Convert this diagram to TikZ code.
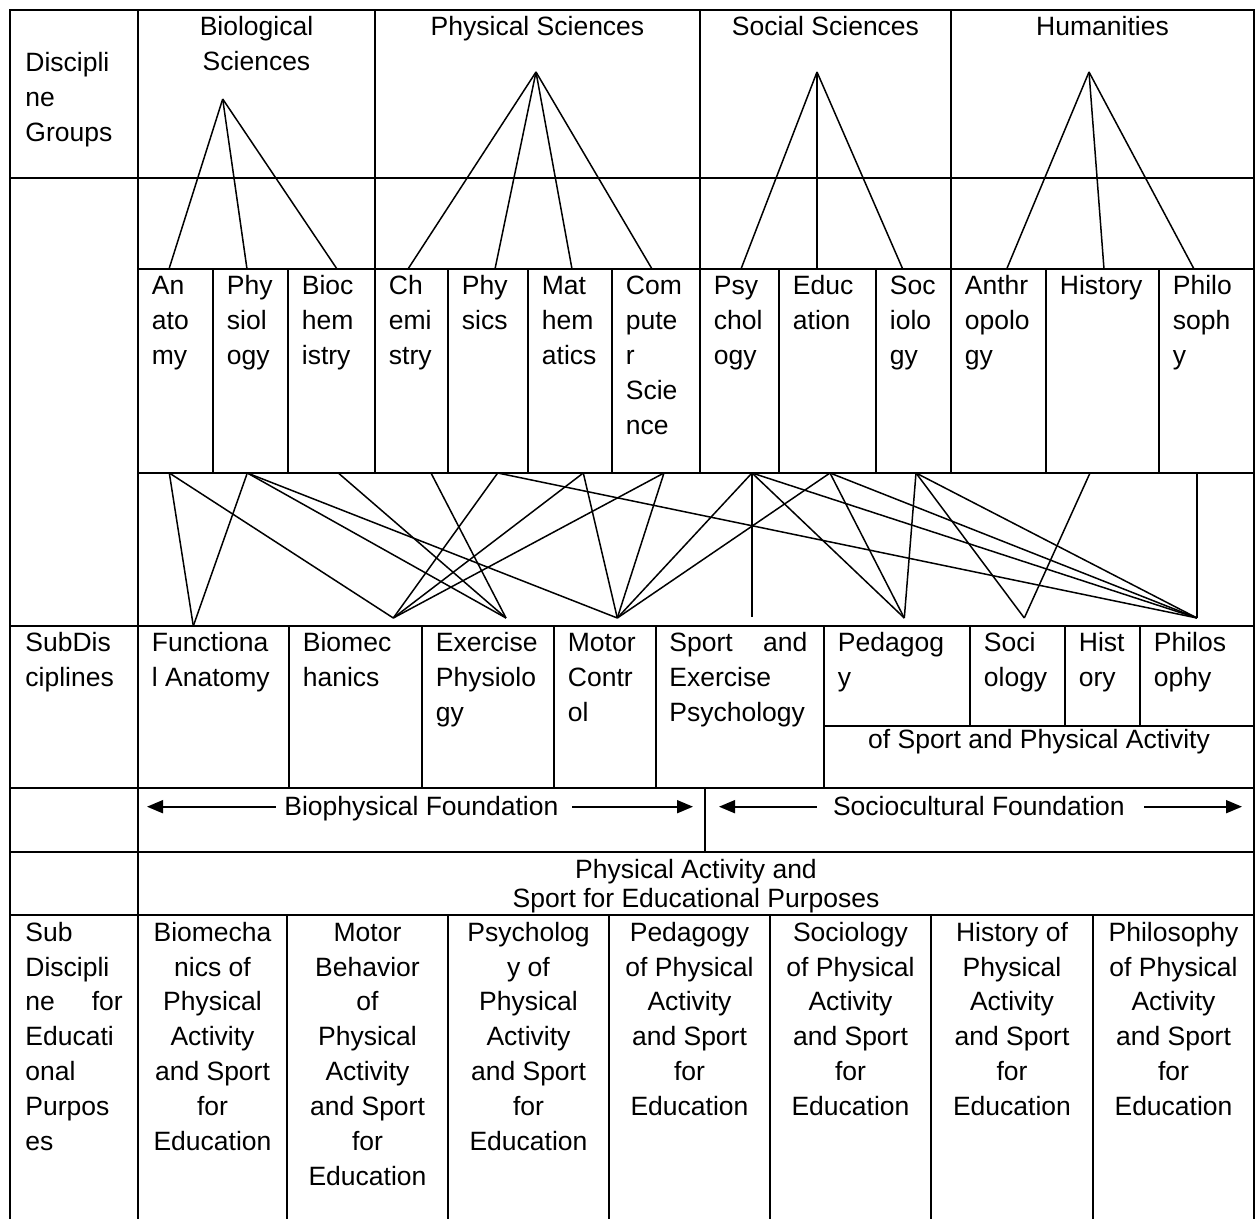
\documentclass[tikz,border=0pt]{standalone}
\usepackage{fontspec}
\setmainfont{Liberation Sans}
\usetikzlibrary{arrows.meta}
\newcommand\mycellfont{\fontsize{13.25pt}{17.5pt}\selectfont}
\newcommand\mytightfont{\fontsize{13.25pt}{14.5pt}\selectfont}
\newcommand\mycellL[1]{\begin{tabular}[t]{@{}l@{}}#1\end{tabular}}
\newcommand\mycellC[1]{\begin{tabular}[t]{@{}c@{}}#1\end{tabular}}
\begin{document}
\begin{tikzpicture}[x=0.5pt,y=-0.5pt,
  grid/.style={line width=1pt,line cap=rect},
  conn/.style={line width=0.75pt},
  vconn/.style={line width=1pt},
  arr/.style={line width=0.9pt,-{Triangle[length=8pt,width=6.5pt]}},
  txt/.style={inner sep=0pt,font=\mycellfont,anchor=base west},
  ctxt/.style={inner sep=0pt,font=\mycellfont,anchor=base}]
\useasboundingbox (0,0) rectangle (1260,1219);
% ---------- table grid ----------
\draw[grid] (10,10) -- (1254,10);
\draw[grid] (10,178) -- (1254,178);
\draw[grid] (138,269) -- (1254,269);
\draw[grid] (138,473) -- (1254,473);
\draw[grid] (10,626) -- (1254,626);
\draw[grid] (824,726) -- (1254,726);
\draw[grid] (10,788) -- (1254,788);
\draw[grid] (10,852) -- (1254,852);
\draw[grid] (10,915) -- (1254,915);
\foreach \x in {10,138,1254} \draw[grid] (\x,10) -- (\x,1219);
\foreach \x in {375,700,951} \draw[grid] (\x,10) -- (\x,473);
\foreach \x in {213,288,448,528,612,779,876,1046,1159} \draw[grid] (\x,269) -- (\x,473);
\foreach \x in {289,422,554,655.5,824} \draw[grid] (\x,626) -- (\x,788);
\foreach \x in {970,1065,1140} \draw[grid] (\x,626) -- (\x,726);
\draw[grid] (705,788) -- (705,852);
\foreach \x in {287,448,609,770,931,1093} \draw[grid] (\x,915) -- (\x,1219);
% ---------- left column ----------
\node[txt] (dgroups) at (25,72) {\mycellL{Discipli\\ne\\Groups}};
\node[txt] (subdisc) at (25,652) {\mycellL{SubDis\\ciplines}};
\node[txt] (subedu) at (25,941) {\mycellL{Sub\\Discipli\\\hbox to 48.7pt{ne\hfill for}\\Educati\\onal\\Purpos\\es}};
% ---------- discipline groups ----------
\node[ctxt] (gbio) at (256.5,36) {\mycellC{Biological\\Sciences}};
\node[ctxt] (gphys) at (537.5,36) {Physical Sciences};
\node[ctxt] (gsoc) at (825.5,36) {Social Sciences};
\node[ctxt] (ghum) at (1102.5,36) {Humanities};
\coordinate (abio) at (222.7,99);
\coordinate (aphys) at (536,72);
\coordinate (asoc) at (817,72);
\coordinate (ahum) at (1089,72);
\foreach \x in {169,247,337} \draw[conn] (abio) -- (\x,269);
\foreach \x in {408,495,572,652} \draw[conn] (aphys) -- (\x,269);
\foreach \x in {741,902.7} \draw[conn] (asoc) -- (\x,269);
\draw[vconn] (asoc) -- (817,269);
\foreach \x in {1006.7,1104,1194} \draw[conn] (ahum) -- (\x,269);
% ---------- disciplines ----------
\node[txt] (dan) at (151.5,295) {\mycellL{An\\ato\\my}};
\node[txt] (dphy) at (226.5,295) {\mycellL{Phy\\siol\\ogy}};
\node[txt] (dbio) at (301.5,295) {\mycellL{Bioc\\hem\\istry}};
\node[txt] (dche) at (388.5,295) {\mycellL{Ch\\emi\\stry}};
\node[txt] (dphs) at (461.5,295) {\mycellL{Phy\\sics}};
\node[txt] (dmat) at (541.5,295) {\mycellL{Mat\\hem\\atics}};
\node[txt] (dcom) at (625.5,295) {\mycellL{Com\\pute\\r\\Scie\\nce}};
\node[txt] (dpsy) at (713.5,295) {\mycellL{Psy\\chol\\ogy}};
\node[txt] (dedu) at (792.5,295) {\mycellL{Educ\\ation}};
\node[txt] (dsoc) at (889.5,295) {\mycellL{Soc\\iolo\\gy}};
\node[txt] (dant) at (964.5,295) {\mycellL{Anthr\\opolo\\gy}};
\node[txt] (dhis) at (1059.5,295) {History};
\node[txt] (dphi) at (1172.5,295) {\mycellL{Philo\\soph\\y}};
% ---------- connector points ----------
\coordinate (tAn) at (169.3,473);
\coordinate (tPhy) at (247.3,473);
\coordinate (tBio) at (338.3,473);
\coordinate (tChe) at (431,473);
\coordinate (tPhs) at (497.7,473);
\coordinate (tMat) at (583.3,473);
\coordinate (tCom) at (664,473);
\coordinate (tPsy) at (752,473);
\coordinate (tEdu) at (830,473);
\coordinate (tSoc) at (916,473);
\coordinate (tHis) at (1090,473);
\coordinate (tPhi) at (1197,473);
\coordinate (bFA) at (193.3,626);
\coordinate (bBM) at (393.3,618);
\coordinate (bEP) at (506,618);
\coordinate (bMC) at (617.3,618);
\coordinate (bSP) at (752,617);
\coordinate (bPed) at (904.3,618);
\coordinate (bSoc) at (1024.3,618);
\coordinate (bPhi) at (1197,618);
\draw[conn] (tAn) -- (bFA);
\draw[conn] (tAn) -- (bBM);
\draw[conn] (tPhy) -- (bFA);
\draw[conn] (tPhy) -- (bEP);
\draw[conn] (tPhy) -- (bMC);
\draw[conn] (tBio) -- (bEP);
\draw[conn] (tChe) -- (bEP);
\draw[conn] (tPhs) -- (bBM);
\draw[conn] (tPhs) -- (bPhi);
\draw[conn] (tMat) -- (bBM);
\draw[conn] (tMat) -- (bMC);
\draw[conn] (tCom) -- (bBM);
\draw[conn] (tCom) -- (bMC);
\draw[conn] (tPsy) -- (bMC);
\draw[vconn] (tPsy) -- (bSP);
\draw[conn] (tPsy) -- (bPed);
\draw[conn] (tPsy) -- (bPhi);
\draw[conn] (tEdu) -- (bMC);
\draw[conn] (tEdu) -- (bPed);
\draw[conn] (tEdu) -- (bPhi);
\draw[conn] (tSoc) -- (bPed);
\draw[conn] (tSoc) -- (bSoc);
\draw[conn] (tSoc) -- (bPhi);
\draw[conn] (tHis) -- (bSoc);
\draw[vconn] (tPhi) -- (bPhi);
% ---------- subdisciplines ----------
\node[txt] (sfa) at (151.5,652) {\mycellL{Functiona\\l Anatomy}};
\node[txt] (sbm) at (302.5,652) {\mycellL{Biomec\\hanics}};
\node[txt] (sep) at (435.5,652) {\mycellL{Exercise\\Physiolo\\gy}};
\node[txt] (smc) at (567.5,652) {\mycellL{Motor\\Contr\\ol}};
\node[txt] (ssp) at (669,652) {\mycellL{\hbox to 69pt{Sport\hfill and}\\Exercise\\Psychology}};
\node[txt] (sped) at (837.5,652) {\mycellL{Pedagog\\y}};
\node[txt] (ssoc) at (983.5,652) {\mycellL{Soci\\ology}};
\node[txt] (shis) at (1078.5,652) {\mycellL{Hist\\ory}};
\node[txt] (sphi) at (1153.5,652) {\mycellL{Philos\\ophy}};
\node[ctxt] (sofsport) at (1039,748) {of Sport and Physical Activity};
% ---------- foundations ----------
\node[txt] (fbio) at (284,815) {Biophysical Foundation};
\node[txt] (fsoc) at (832.6,815) {Sociocultural Foundation};
\coordinate (fbioLs) at (275.7,806.7);
\coordinate (fbioLt) at (147,806.7);
\coordinate (fbioRs) at (572,806.7);
\coordinate (fbioRt) at (693,806.7);
\coordinate (fsocLs) at (816.7,806.7);
\coordinate (fsocLt) at (719,806.7);
\coordinate (fsocRs) at (1144,806.7);
\coordinate (fsocRt) at (1242,806.7);
\draw[arr] (fbioLs) -- (fbioLt);
\draw[arr] (fbioRs) -- (fbioRt);
\draw[arr] (fsocLs) -- (fsocLt);
\draw[arr] (fsocRs) -- (fsocRt);
% ---------- educational purposes ----------
\node[ctxt,font=\mytightfont] (paesp) at (696,878) {\mycellC{Physical Activity and\\Sport for Educational Purposes}};
\node[ctxt] (e1) at (212.5,941) {\mycellC{Biomecha\\nics of\\Physical\\Activity\\and Sport\\for\\Education}};
\node[ctxt] (e2) at (367.5,941) {\mycellC{Motor\\Behavior\\of\\Physical\\Activity\\and Sport\\for\\Education}};
\node[ctxt] (e3) at (528.5,941) {\mycellC{Psycholog\\y of\\Physical\\Activity\\and Sport\\for\\Education}};
\node[ctxt] (e4) at (689.5,941) {\mycellC{Pedagogy\\of Physical\\Activity\\and Sport\\for\\Education}};
\node[ctxt] (e5) at (850.5,941) {\mycellC{Sociology\\of Physical\\Activity\\and Sport\\for\\Education}};
\node[ctxt] (e6) at (1012,941) {\mycellC{History of\\Physical\\Activity\\and Sport\\for\\Education}};
\node[ctxt] (e7) at (1173.5,941) {\mycellC{Philosophy\\of Physical\\Activity\\and Sport\\for\\Education}};
\end{tikzpicture}
\end{document}
